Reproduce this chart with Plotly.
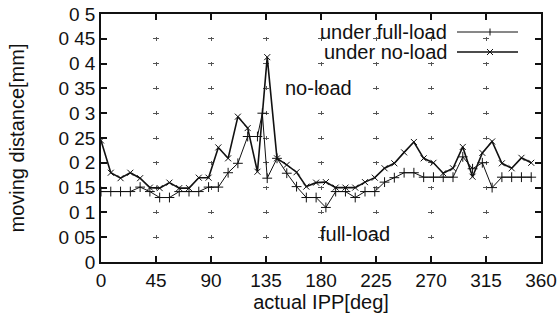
import plotly.graph_objects as go

# ---- data ----
angle_noload = [0, 8, 16, 24, 32, 40, 48, 56, 64, 72, 80, 88, 96, 104, 112, 120, 128, 136,
                144, 152, 160, 168, 176, 184, 192, 200, 208, 216, 224, 232, 240, 248, 256,
                264, 272, 280, 288, 296, 304, 312, 320, 328, 336, 344, 352]
noload = [0.245, 0.180, 0.169, 0.180, 0.169, 0.150, 0.149, 0.160, 0.149, 0.149, 0.170, 0.170,
          0.231, 0.209, 0.293, 0.270, 0.182, 0.413, 0.209, 0.196, 0.181, 0.152, 0.160, 0.161,
          0.150, 0.150, 0.150, 0.161, 0.170, 0.189, 0.199, 0.221, 0.242, 0.209, 0.200, 0.179,
          0.189, 0.232, 0.172, 0.220, 0.243, 0.199, 0.189, 0.210, 0.200]

angle_fullload = [0, 8, 16, 24, 32, 40, 48, 56, 64, 72, 80, 88, 96, 104, 112, 120, 128, 132, 136,
                  144, 152, 160, 168, 176, 184, 192, 200, 208, 216, 224, 232, 240, 248, 256,
                  264, 272, 280, 288, 296, 304, 312, 320, 328, 336, 344, 352]
fullload = [0.142, 0.142, 0.142, 0.142, 0.151, 0.142, 0.130, 0.130, 0.142, 0.142, 0.142, 0.151,
            0.151, 0.180, 0.199, 0.253, 0.253, 0.300, 0.169, 0.209, 0.179, 0.152, 0.130, 0.130,
            0.110, 0.142, 0.142, 0.130, 0.142, 0.142, 0.161, 0.170, 0.180, 0.180, 0.171, 0.171,
            0.171, 0.171, 0.212, 0.188, 0.200, 0.150, 0.171, 0.171, 0.171, 0.171]

x_ticks = [0, 45, 90, 135, 180, 225, 270, 315, 360]
y_ticks = [0, 0.05, 0.1, 0.15, 0.2, 0.25, 0.3, 0.35, 0.4, 0.45, 0.5]
y_ticklabels = ["0", "0 05", "0 1", "0 15", "0 2", "0 25", "0 3", "0 35", "0 4", "0 45", "0 5"]

series_names = ["under full-load", "under no-load"]
region_labels = ["no-load", "full-load"]

# ---- layout geometry ----
W, H = 558, 326
L, R, T, B = 101, 17, 14, 64
PW, PH = W - L - R, H - T - B
FONT = "Liberation Sans, Arial, sans-serif"
INK = "#111111"


def px_x(px):
    return (px - L) / PW


def px_y(py):
    return (H - B - py) / PH


fig = go.Figure()
fig.add_trace(go.Scatter(
    x=angle_fullload, y=fullload, mode="lines+markers", name=series_names[0],
    line=dict(color=INK, width=1),
    marker=dict(symbol="cross-thin-open", size=7, line=dict(color=INK, width=1)),
    showlegend=False))
fig.add_trace(go.Scatter(
    x=angle_noload, y=noload, mode="lines+markers", name=series_names[1],
    line=dict(color=INK, width=1.6),
    marker=dict(symbol="x-thin-open", size=6, line=dict(color=INK, width=1)),
    showlegend=False))

# manual gnuplot-style key (text right, sample to the right)
shapes = []
annotations = []
key_rows = [(32, series_names[0], "plus"), (52, series_names[1], "x")]
for ypix, name, sym in key_rows:
    annotations.append(dict(xref="paper", yref="paper", x=px_x(449), y=px_y(ypix),
                            text=name, showarrow=False, xanchor="right", yanchor="middle",
                            font=dict(family=FONT, size=20, color=INK)))
    shapes.append(dict(type="line", xref="paper", yref="paper",
                       x0=px_x(457), x1=px_x(518), y0=px_y(ypix), y1=px_y(ypix),
                       line=dict(color=INK, width=1 if sym == "plus" else 1.6)))
    cx, cy = 490, ypix
    if sym == "plus":
        shapes.append(dict(type="line", xref="paper", yref="paper",
                           x0=px_x(cx), x1=px_x(cx), y0=px_y(cy - 3.5), y1=px_y(cy + 3.5),
                           line=dict(color=INK, width=1)))
    else:
        for d in (-1, 1):
            shapes.append(dict(type="line", xref="paper", yref="paper",
                               x0=px_x(cx - 3), x1=px_x(cx + 3),
                               y0=px_y(cy - 3 * d), y1=px_y(cy + 3 * d),
                               line=dict(color=INK, width=1)))

annotations.append(dict(x=178, y=0.351, xref="x", yref="y", text=region_labels[0],
                        showarrow=False, font=dict(family=FONT, size=20, color=INK)))
annotations.append(dict(x=208, y=0.057, xref="x", yref="y", text=region_labels[1],
                        showarrow=False, font=dict(family=FONT, size=20, color=INK)))

axis_common = dict(showline=True, linecolor=INK, linewidth=1.5, mirror="ticks",
                   ticks="inside", ticklen=6, tickwidth=1.5, tickcolor=INK,
                   zeroline=False, showgrid=True, gridcolor="#555555", gridwidth=1,
                   tickfont=dict(family=FONT, size=19, color=INK))

fig.update_layout(
    width=W, height=H,
    margin=dict(l=L, r=R, t=T, b=B, autoexpand=False),
    paper_bgcolor="white", plot_bgcolor="white",
    font=dict(family=FONT, size=20, color=INK),
    xaxis=dict(range=[0, 360], tickvals=x_ticks, ticktext=[str(v) for v in x_ticks],
               title=dict(text="actual IPP[deg]", standoff=4,
                          font=dict(family=FONT, size=20, color=INK)),
               griddash="2px,20.8px,2px,0px", automargin=False, **axis_common),
    yaxis=dict(range=[0, 0.5], tickvals=y_ticks, ticktext=y_ticklabels,
               title=dict(text="moving distance[mm]", standoff=28,
                          font=dict(family=FONT, size=20, color=INK)),
               griddash="3px,49px,3px,0px", automargin=False,
               ticklabeloverflow="allow", **axis_common),
    shapes=shapes, annotations=annotations,
)

# remove the browser's default 8px page margin so the figure fills the window
fig.write_html("out.html", config={"displayModeBar": False},
               post_script="document.body.style.margin='0';")
